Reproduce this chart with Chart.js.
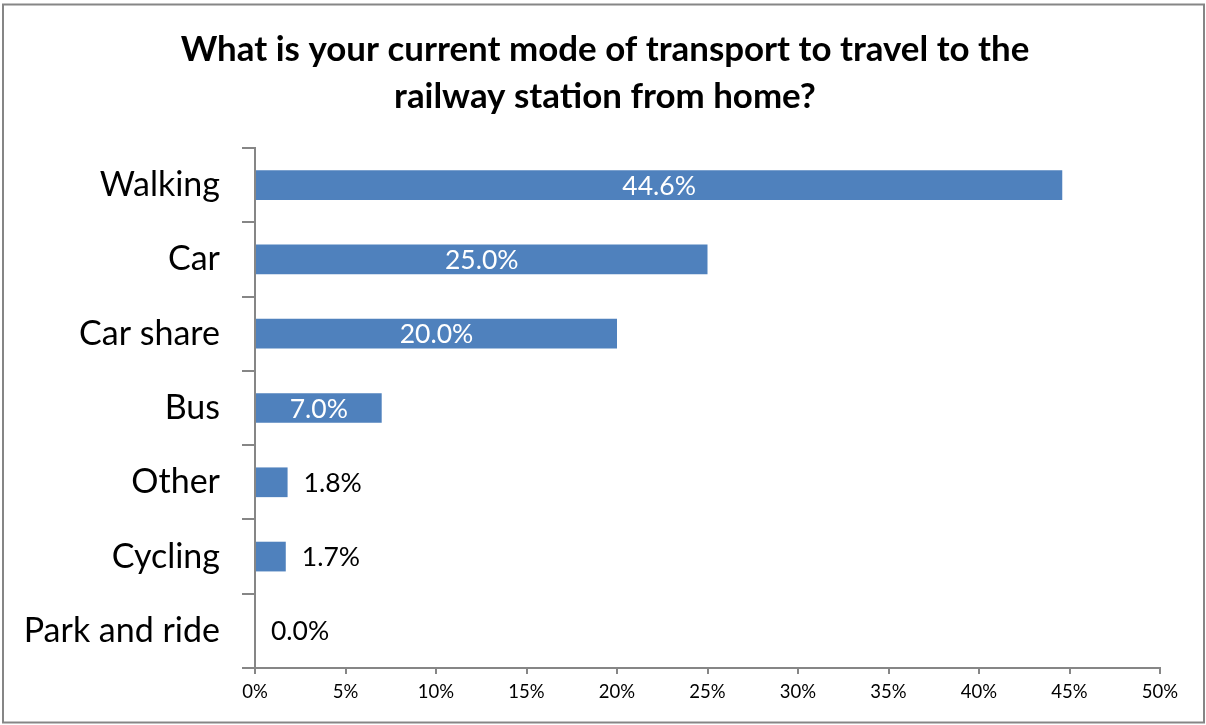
<!DOCTYPE html>
<html>
<head>
<meta charset="utf-8">
<script src="https://cdn.jsdelivr.net/npm/chart.js@4/dist/chart.umd.min.js"></script>
<style>
  html, body { margin: 0; padding: 0; background: #ffffff; }
  #wrap { width: 1206px; height: 725px; position: relative; }
</style>
</head>
<body>
<div id="wrap"><canvas id="chart" width="1206" height="725"></canvas></div>
<script>
const titleLines = ['What is your current mode of transport to travel to the', 'railway station from home?'];
const categories = ['Walking', 'Car', 'Car share', 'Bus', 'Other', 'Cycling', 'Park and ride'];
const shares = [44.6, 25.0, 20.0, 7.0, 1.8, 1.7, 0.0];
const axisMax = 50;
const axisStep = 5;

const FONT = 'Lato, "Open Sans", sans-serif';
const AXIS_GREY = '#868686';
const BAR_BLUE = '#4F81BD';

// White background and thin grey frame round the whole chart
const framePlugin = {
  id: 'frame',
  beforeDraw(chart) {
    const ctx = chart.ctx;
    ctx.save();
    ctx.fillStyle = '#ffffff';
    ctx.fillRect(0, 0, chart.width, chart.height);
    ctx.strokeStyle = AXIS_GREY;
    ctx.lineWidth = 2;
    ctx.strokeRect(3, 4.5, chart.width - 5, chart.height - 7);
    ctx.restore();
  }
};

// Two-line bold heading, centred on the canvas above the plot
const headingPlugin = {
  id: 'heading',
  afterDraw(chart) {
    const ctx = chart.ctx;
    ctx.save();
    ctx.font = 'bold 34.9px ' + FONT;
    ctx.fillStyle = '#000000';
    ctx.textAlign = 'center';
    ctx.textBaseline = 'middle';
    const cx = chart.width / 2 + 2;
    titleLines.forEach((line, i) => ctx.fillText(line, cx, 50 + i * 47));
    ctx.restore();
  }
};

// Percent labels: inside the bar (white, centred) when they fit, else just past its end
const valueLabels = {
  id: 'valueLabels',
  afterDatasetsDraw(chart) {
    const ctx = chart.ctx;
    const meta = chart.getDatasetMeta(0);
    const values = chart.data.datasets[0].data;
    ctx.save();
    ctx.font = '26.5px ' + FONT;
    ctx.textBaseline = 'middle';
    meta.data.forEach((bar, i) => {
      const text = values[i].toFixed(1) + '%';
      const w = ctx.measureText(text).width;
      const barLen = bar.x - bar.base;
      if (barLen > w + 20) {
        ctx.fillStyle = '#ffffff';
        ctx.textAlign = 'center';
        ctx.fillText(text, (bar.x + bar.base) / 2, bar.y + 1);
      } else {
        ctx.fillStyle = '#000000';
        ctx.textAlign = 'left';
        ctx.fillText(text, bar.x + 16, bar.y + 1);
      }
    });
    ctx.restore();
  }
};

new Chart(document.getElementById('chart'), {
  type: 'bar',
  data: {
    labels: categories,
    datasets: [{
      data: shares,
      backgroundColor: BAR_BLUE,
      borderWidth: 0,
      barPercentage: 0.4,
      categoryPercentage: 1.0
    }]
  },
  options: {
    indexAxis: 'y',
    responsive: false,
    animation: false,
    devicePixelRatio: 1,
    layout: { padding: { left: 0, right: 46, top: 148, bottom: 0 } },
    plugins: {
      legend: { display: false },
      tooltip: { enabled: false },
      title: { display: false }
    },
    scales: {
      x: {
        type: 'linear',
        min: 0,
        max: axisMax,
        ticks: {
          stepSize: axisStep,
          color: '#000000',
          font: { family: FONT, size: 18.5 },
          padding: 7,
          callback: v => v + '%'
        },
        grid: {
          drawOnChartArea: false,
          drawTicks: true,
          tickLength: 6,
          color: AXIS_GREY,
          lineWidth: 2
        },
        border: { display: true, color: AXIS_GREY, width: 2 },
        afterFit(scale) { scale.height = 57; }
      },
      y: {
        type: 'category',
        ticks: {
          color: '#000000',
          font: { family: FONT, size: 34 },
          padding: 22
        },
        grid: {
          offset: true,
          drawOnChartArea: false,
          drawTicks: true,
          tickLength: 13,
          color: AXIS_GREY,
          lineWidth: 2
        },
        border: { display: true, color: AXIS_GREY, width: 2 },
        afterFit(scale) { scale.width = 255; }
      }
    }
  },
  plugins: [framePlugin, headingPlugin, valueLabels]
});
</script>
</body>
</html>
